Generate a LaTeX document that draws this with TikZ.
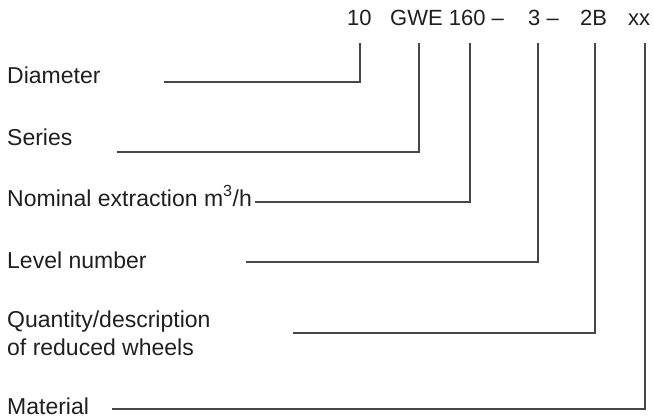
\documentclass[tikz,border=0pt]{standalone}
\usepackage{fontspec}
\setmainfont{Liberation Sans}
\begin{document}
\begin{tikzpicture}[x=1pt,y=-1pt,
  lbl/.style={anchor=base west,inner sep=0pt,font=\fontsize{23}{28}\selectfont,text=black!88},
  hdr/.style={anchor=base west,inner sep=0pt,font=\fontsize{22}{28}\selectfont,text=black!88},
  lead/.style={draw=black!72,line width=1.1pt}]
\useasboundingbox (0,0) rectangle (654,418);
% header code
\node[hdr] (h10) at (347,25) {10};
\node[hdr] (hgwe) at (390,25) {GWE 160 –};
\node[hdr] (h3) at (528,25) {3 –};
\node[hdr] (h2b) at (580,25) {2B};
\node[hdr] (hxx) at (628,25) {xx};
% labels
\node[lbl] (ldia) at (7,83) {Diameter};
\node[lbl] (lser) at (7,145) {Series};
\node[lbl] (lnom) at (7,206) {Nominal extraction m\textsuperscript{3}/h};
\node[lbl] (llev) at (7,268) {Level number};
\node[lbl] (lqua) at (7,327) {Quantity/description};
\node[lbl] (lqub) at (7,355) {of reduced wheels};
\node[lbl] (lmat) at (7,414) {Material};
% leader end points
\coordinate (a0) at (164,82);  \coordinate (a1) at (360,43);
\coordinate (b0) at (117,152); \coordinate (b1) at (419,43);
\coordinate (c0) at (255,202); \coordinate (c1) at (470,43);
\coordinate (d0) at (246,262); \coordinate (d1) at (538,43);
\coordinate (e0) at (293,333); \coordinate (e1) at (595,43);
\coordinate (f0) at (112,409); \coordinate (f1) at (645,43);
\draw[lead] (a0) -| (a1);
\draw[lead] (b0) -| (b1);
\draw[lead] (c0) -| (c1);
\draw[lead] (d0) -| (d1);
\draw[lead] (e0) -| (e1);
\draw[lead] (f0) -| (f1);
\end{tikzpicture}
\end{document}
